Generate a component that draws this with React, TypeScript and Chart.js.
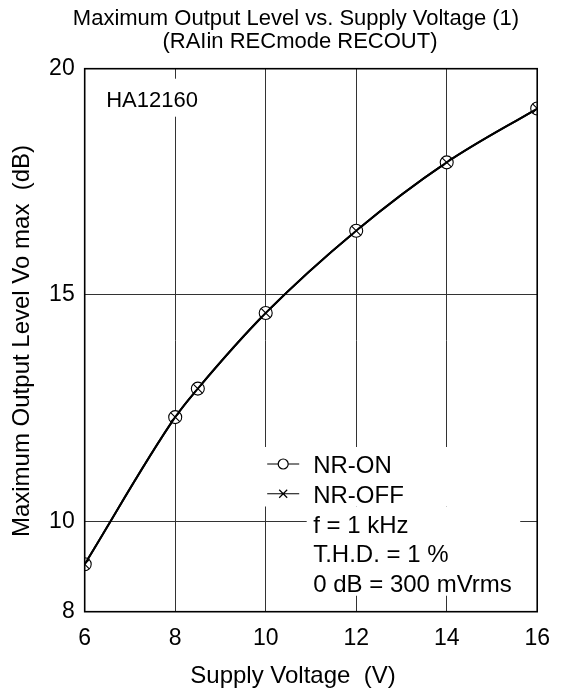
import React, { useEffect, useRef } from "react";
import { Chart, registerables } from "chart.js";

Chart.register(...registerables);

const supplyVoltage = [6, 8, 8.5, 10, 12, 14, 16];
const nrOnLevel = [9.05, 12.3, 12.93, 14.6, 16.42, 17.93, 19.12];
const nrOffLevel = [9.05, 12.3, 12.93, 14.6, 16.42, 17.93, 19.12];
const xTickValues = [6, 8, 10, 12, 14, 16];
const yTickValues = [8, 10, 15, 20];
const seriesLabels = ["NR-ON", "NR-OFF"];
const titleLines = ["Maximum Output Level vs. Supply Voltage (1)", "(RAIin RECmode RECOUT)"];
const deviceLabel = "HA12160";
const noteLines = ["f = 1 kHz", "T.H.D. = 1 %", "0 dB = 300 mVrms"];
const xAxisTitle = "Supply Voltage  (V)";
const yAxisTitle = "Maximum Output Level Vo max  (dB)";

const FONT = '"Liberation Sans", Arial, Helvetica, sans-serif';

const annotate = {
  id: "annotate",
  beforeDatasetsDraw(chart: any) {
    const ctx = chart.ctx;
    const a = chart.chartArea;
    ctx.save();
    // device label with white background
    ctx.fillStyle = "#fff";
    ctx.fillRect(a.left + 14, a.top + 10, 94, 38);
    ctx.fillStyle = "#000";
    ctx.font = `22px ${FONT}`;
    ctx.textAlign = "left";
    ctx.textBaseline = "alphabetic";
    ctx.fillText(deviceLabel, a.left + 21.5, a.top + 38.5);

    // legend/notes background
    const rowH = 29.75;
    const baseLast = a.bottom - 19.7;
    const bases = [0, 1, 2, 3, 4].map((i) => baseLast - (4 - i) * rowH);
    ctx.fillStyle = "#fff";
    ctx.fillRect(a.left + 177, bases[0] - 26, a.right - 17 - (a.left + 177), rowH * 2);
    ctx.fillRect(a.left + 222, bases[2] - 26, a.right - 17 - (a.left + 222), rowH * 3);

    const symX = a.left + 198.5;
    const textX = a.left + 228.5;
    ctx.strokeStyle = "#000";
    ctx.lineWidth = 1.2;
    // NR-ON symbol
    const cy0 = bases[0] - 9;
    ctx.beginPath();
    ctx.moveTo(symX - 16, cy0);
    ctx.lineTo(symX - 5, cy0);
    ctx.moveTo(symX + 5, cy0);
    ctx.lineTo(symX + 16, cy0);
    ctx.stroke();
    ctx.beginPath();
    ctx.arc(symX, cy0, 5, 0, Math.PI * 2);
    ctx.stroke();
    // NR-OFF symbol
    const cy1 = bases[1] - 9;
    ctx.beginPath();
    ctx.moveTo(symX - 16, cy1);
    ctx.lineTo(symX + 16, cy1);
    ctx.moveTo(symX - 4, cy1 - 4);
    ctx.lineTo(symX + 4, cy1 + 4);
    ctx.moveTo(symX - 4, cy1 + 4);
    ctx.lineTo(symX + 4, cy1 - 4);
    ctx.stroke();

    ctx.fillStyle = "#000";
    ctx.font = `24px ${FONT}`;
    const lines = [chart.data.datasets[1].label, chart.data.datasets[0].label, ...noteLines];
    lines.forEach((t: string, i: number) => ctx.fillText(t, textX, bases[i]));
    ctx.restore();
  },
  afterDraw(chart: any) {
    const ctx = chart.ctx;
    const a = chart.chartArea;
    ctx.save();
    ctx.strokeStyle = "#000";
    ctx.lineWidth = 1.6;
    ctx.strokeRect(a.left, a.top, a.right - a.left, a.bottom - a.top);

    ctx.fillStyle = "#000";
    ctx.textAlign = "center";
    ctx.textBaseline = "alphabetic";
    ctx.font = `22px ${FONT}`;
    ctx.fillText(titleLines[0], 296, 25);
    ctx.fillText(titleLines[1], 300, 48);

    ctx.font = `24px ${FONT}`;
    ctx.fillText(xAxisTitle, 293, 683);

    ctx.translate(28.5, 341);
    ctx.rotate(-Math.PI / 2);
    ctx.fillText(yAxisTitle, 0, 0);
    ctx.restore();
  },
};

export default function App() {
  const ref = useRef<HTMLCanvasElement>(null);
  useEffect(() => {
    if (!ref.current) return;
    const gridColor = (edgeA: number, edgeB: number) => (c: any) =>
      c.tick && (c.tick.value === edgeA || c.tick.value === edgeB) ? "rgba(0,0,0,0)" : "#333";
    const chart = new Chart(ref.current, {
      type: "line",
      data: {
        datasets: [
          {
            label: seriesLabels[1],
            data: supplyVoltage.map((x, i) => ({ x, y: nrOffLevel[i] })),
            borderColor: "#000",
            borderWidth: 2,
            cubicInterpolationMode: "monotone",
            pointStyle: "crossRot",
            pointRadius: 6.5,
            pointBorderWidth: 1.1,
            pointBorderColor: "#000",
            pointBackgroundColor: "#fff",
            order: 0,
          },
          {
            label: seriesLabels[0],
            data: supplyVoltage.map((x, i) => ({ x, y: nrOnLevel[i] })),
            borderColor: "#000",
            borderWidth: 2,
            cubicInterpolationMode: "monotone",
            pointStyle: "circle",
            pointRadius: 6.5,
            pointBorderWidth: 1.1,
            pointBorderColor: "#000",
            pointBackgroundColor: "#fff",
            order: 1,
          },
        ],
      },
      options: {
        responsive: false,
        animation: false,
        devicePixelRatio: 1,
        layout: { padding: { top: 68.7, right: 24, left: 0, bottom: 0 } },
        plugins: { legend: { display: false }, tooltip: { enabled: false }, title: { display: false } },
        scales: {
          x: {
            type: "linear",
            min: 6,
            max: 16,
            afterBuildTicks: (s: any) => {
              s.ticks = xTickValues.map((v) => ({ value: v }));
            },
            afterFit: (s: any) => {
              s.height = 81.3;
            },
            border: { display: false },
            grid: { color: gridColor(6, 16), lineWidth: 1, drawTicks: false },
            ticks: { color: "#000", font: { size: 23, family: FONT }, padding: 13, maxRotation: 0 },
          },
          y: {
            type: "linear",
            min: 8,
            max: 20,
            afterBuildTicks: (s: any) => {
              s.ticks = yTickValues.map((v) => ({ value: v }));
            },
            afterFit: (s: any) => {
              s.width = 84.7;
            },
            border: { display: false },
            grid: { color: gridColor(8, 20), lineWidth: 1, drawTicks: false },
            ticks: { color: "#000", font: { size: 23, family: FONT }, padding: 10 },
          },
        },
      },
      plugins: [annotate],
    } as any);
    return () => chart.destroy();
  }, []);
  return (
    <div style={{ position: "absolute", left: 0, top: 0, width: 563, height: 693, background: "#fff" }}>
      <canvas ref={ref} width={563} height={693} style={{ width: 563, height: 693 }} />
    </div>
  );
}
